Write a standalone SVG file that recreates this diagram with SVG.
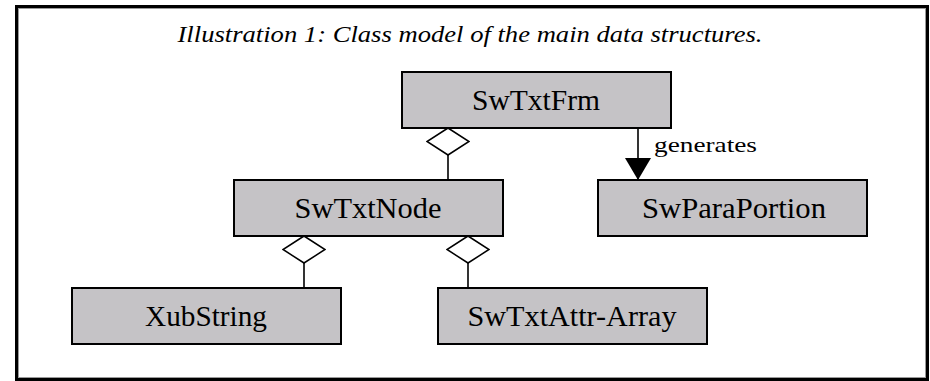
<svg xmlns="http://www.w3.org/2000/svg" width="930" height="381" viewBox="0 0 930 381">
  <style>
    .frame { fill: none; stroke: #000; stroke-width: 3; }
    .frame-inner { fill: none; stroke: #9a9a9a; stroke-width: 1; }
    .box { fill: #c5c3c6; stroke: #000; stroke-width: 2; }
    .label { font-family: 'Liberation Serif', serif; font-size: 29px; fill: #000; text-anchor: middle; }
    .title { font-family: 'Liberation Serif', serif; font-style: italic; font-size: 24px; fill: #000; text-anchor: middle; }
    .note { font-family: 'Liberation Serif', serif; font-size: 21px; fill: #000; }
    .link { fill: none; stroke: #000; stroke-width: 1.6; }
    .agg { marker-end: url(#diamond); }
    .gen { marker-end: url(#arrow); }
  </style>
  <defs>
    <!-- hollow aggregation diamond, tip sits on the owner box -->
    <marker id="diamond" viewBox="-1 -1 29 44" refX="27" refY="21" markerWidth="29" markerHeight="44" markerUnits="userSpaceOnUse" orient="auto">
      <path d="M0,21 L13.5,0 L27,21 L13.5,42 Z" fill="#fff" stroke="#000" stroke-width="1.5"/>
    </marker>
    <!-- filled arrowhead -->
    <marker id="arrow" viewBox="0 0 22 26" refX="22" refY="13" markerWidth="22" markerHeight="26" markerUnits="userSpaceOnUse" orient="auto">
      <path d="M0,0 L22,13 L0,26 Z" fill="#000"/>
    </marker>
  </defs>

  <rect width="930" height="381" fill="#fff"/>
  <rect class="frame" x="16.5" y="6.5" width="911" height="373"/>
  <rect class="frame-inner" x="18.5" y="8.5" width="907" height="369"/>

  <text class="title" x="470" y="42" textLength="585" lengthAdjust="spacingAndGlyphs">Illustration 1: Class model of the main data structures.</text>

  <g id="connectors">
    <path class="link agg" d="M448,180 V128"/>
    <path class="link agg" d="M304,288 V236"/>
    <path class="link agg" d="M468,288 V236"/>
    <path class="link gen" d="M638,128 V180"/>
    <text class="note" x="654" y="152" textLength="103" lengthAdjust="spacingAndGlyphs">generates</text>
  </g>

  <g id="SwTxtFrm">
    <rect class="box" x="402" y="72" width="269" height="56"/>
    <text class="label" x="536" y="110" textLength="128" lengthAdjust="spacingAndGlyphs">SwTxtFrm</text>
  </g>

  <g id="SwTxtNode">
    <rect class="box" x="234" y="180" width="269" height="56"/>
    <text class="label" x="368" y="218" textLength="147" lengthAdjust="spacingAndGlyphs">SwTxtNode</text>
  </g>

  <g id="SwParaPortion">
    <rect class="box" x="598" y="180" width="269" height="56"/>
    <text class="label" x="734" y="218" textLength="184" lengthAdjust="spacingAndGlyphs">SwParaPortion</text>
  </g>

  <g id="XubString">
    <rect class="box" x="72" y="288" width="269" height="56"/>
    <text class="label" x="206" y="326" textLength="122" lengthAdjust="spacingAndGlyphs">XubString</text>
  </g>

  <g id="SwTxtAttr-Array">
    <rect class="box" x="438" y="288" width="269" height="56"/>
    <text class="label" x="572" y="326" textLength="209" lengthAdjust="spacingAndGlyphs">SwTxtAttr-Array</text>
  </g>
</svg>
